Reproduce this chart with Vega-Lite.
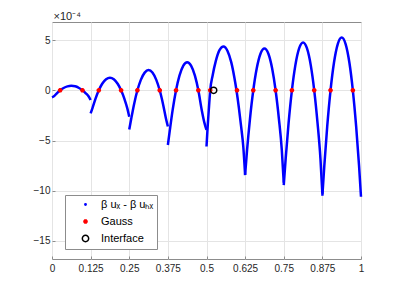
{
  "$schema": "https://vega.github.io/schema/vega-lite/v6.json",
  "width": 309,
  "height": 237,
  "autosize": {"type": "none"},
  "padding": {"left": 52, "top": 22, "right": 38, "bottom": 33},
  "background": "white",
  "config": {
    "font": "Liberation Sans",
    "view": {"stroke": "#8c8c8c", "strokeWidth": 1},
    "axis": {
      "domain": false,
      "tickColor": "#8c8c8c",
      "tickSize": -3,
      "gridColor": "#e4e4e4",
      "gridWidth": 1,
      "labelFont": "Liberation Sans",
      "labelFontSize": 10,
      "labelColor": "#262626",
      "titleFont": "Liberation Sans"
    }
  },
  "datasets": {
    "curve": [
      {"x": 0, "y": -0.7, "element": 1}, {"x": 0.00625, "y": -0.6, "element": 1}, {"x": 0.015625, "y": -0.3, "element": 1}, {"x": 0.0264, "y": 0, "element": 1}, {"x": 0.0375, "y": 0.23, "element": 1}, {"x": 0.05, "y": 0.39, "element": 1}, {"x": 0.0625, "y": 0.44, "element": 1}, {"x": 0.075, "y": 0.4, "element": 1}, {"x": 0.0875, "y": 0.23, "element": 1}, {"x": 0.0986, "y": 0, "element": 1}, {"x": 0.109375, "y": -0.3, "element": 1}, {"x": 0.11875, "y": -0.62, "element": 1}, {"x": 0.125, "y": -0.97, "element": 1},
      {"x": 0.125, "y": -2.3, "element": 2}, {"x": 0.13125, "y": -1.75, "element": 2}, {"x": 0.140625, "y": -0.86, "element": 2}, {"x": 0.1514, "y": 0, "element": 2}, {"x": 0.1625, "y": 0.65, "element": 2}, {"x": 0.175, "y": 1.1, "element": 2}, {"x": 0.1875, "y": 1.26, "element": 2}, {"x": 0.2, "y": 1.11, "element": 2}, {"x": 0.2125, "y": 0.65, "element": 2}, {"x": 0.2236, "y": 0, "element": 2}, {"x": 0.234375, "y": -0.86, "element": 2}, {"x": 0.24375, "y": -1.8, "element": 2}, {"x": 0.25, "y": -2.63, "element": 2},
      {"x": 0.25, "y": -3.9, "element": 3}, {"x": 0.25625, "y": -2.86, "element": 3}, {"x": 0.265625, "y": -1.38, "element": 3}, {"x": 0.2764, "y": 0, "element": 3}, {"x": 0.2875, "y": 1.04, "element": 3}, {"x": 0.3, "y": 1.76, "element": 3}, {"x": 0.3125, "y": 2.02, "element": 3}, {"x": 0.325, "y": 1.77, "element": 3}, {"x": 0.3375, "y": 1.04, "element": 3}, {"x": 0.3486, "y": 0, "element": 3}, {"x": 0.359375, "y": -1.38, "element": 3}, {"x": 0.36875, "y": -2.8, "element": 3}, {"x": 0.375, "y": -3.6, "element": 3},
      {"x": 0.375, "y": -5.45, "element": 4}, {"x": 0.38125, "y": -4.0, "element": 4}, {"x": 0.390625, "y": -1.93, "element": 4}, {"x": 0.4014, "y": 0, "element": 4}, {"x": 0.4125, "y": 1.46, "element": 4}, {"x": 0.425, "y": 2.46, "element": 4}, {"x": 0.4375, "y": 2.8, "element": 4}, {"x": 0.45, "y": 2.46, "element": 4}, {"x": 0.4625, "y": 1.46, "element": 4}, {"x": 0.4736, "y": 0, "element": 4}, {"x": 0.484375, "y": -1.93, "element": 4}, {"x": 0.49375, "y": -3.3, "element": 4}, {"x": 0.5, "y": -3.95, "element": 4},
      {"x": 0.5, "y": -5.6, "element": 5}, {"x": 0.504, "y": -3.5, "element": 5}, {"x": 0.508, "y": -1.7, "element": 5}, {"x": 0.512, "y": 0, "element": 5}, {"x": 0.52, "y": 1.5, "element": 5}, {"x": 0.53, "y": 2.9, "element": 5}, {"x": 0.542, "y": 4.0, "element": 5}, {"x": 0.555, "y": 4.36, "element": 5}, {"x": 0.568, "y": 3.92, "element": 5}, {"x": 0.58, "y": 2.8, "element": 5}, {"x": 0.59, "y": 1.3, "element": 5}, {"x": 0.597, "y": 0, "element": 5}, {"x": 0.605, "y": -1.8, "element": 5}, {"x": 0.612, "y": -3.6, "element": 5}, {"x": 0.619, "y": -5.6, "element": 5}, {"x": 0.625, "y": -8.45, "element": 5},
      {"x": 0.625, "y": -8.4, "element": 6}, {"x": 0.63125, "y": -5.95, "element": 6}, {"x": 0.640625, "y": -2.86, "element": 6}, {"x": 0.6514, "y": 0, "element": 6}, {"x": 0.6625, "y": 2.16, "element": 6}, {"x": 0.675, "y": 3.66, "element": 6}, {"x": 0.6875, "y": 4.16, "element": 6}, {"x": 0.7, "y": 3.66, "element": 6}, {"x": 0.7125, "y": 2.16, "element": 6}, {"x": 0.7236, "y": 0, "element": 6}, {"x": 0.734375, "y": -2.86, "element": 6}, {"x": 0.74375, "y": -5.95, "element": 6}, {"x": 0.75, "y": -9.2, "element": 6},
      {"x": 0.75, "y": -9.45, "element": 7}, {"x": 0.75625, "y": -6.8, "element": 7}, {"x": 0.765625, "y": -3.27, "element": 7}, {"x": 0.7764, "y": 0, "element": 7}, {"x": 0.7875, "y": 2.48, "element": 7}, {"x": 0.8, "y": 4.19, "element": 7}, {"x": 0.8125, "y": 4.76, "element": 7}, {"x": 0.825, "y": 4.19, "element": 7}, {"x": 0.8375, "y": 2.48, "element": 7}, {"x": 0.8486, "y": 0, "element": 7}, {"x": 0.859375, "y": -3.27, "element": 7}, {"x": 0.86875, "y": -6.8, "element": 7}, {"x": 0.875, "y": -10.3, "element": 7},
      {"x": 0.875, "y": -10.5, "element": 8}, {"x": 0.88125, "y": -7.52, "element": 8}, {"x": 0.890625, "y": -3.62, "element": 8}, {"x": 0.9014, "y": 0, "element": 8}, {"x": 0.9125, "y": 2.74, "element": 8}, {"x": 0.925, "y": 4.63, "element": 8}, {"x": 0.9375, "y": 5.26, "element": 8}, {"x": 0.95, "y": 4.63, "element": 8}, {"x": 0.9625, "y": 2.74, "element": 8}, {"x": 0.9736, "y": 0, "element": 8}, {"x": 0.984375, "y": -3.62, "element": 8}, {"x": 0.99375, "y": -7.52, "element": 8}, {"x": 1.0, "y": -10.6, "element": 8}
    ],
    "markers": [
      {"x": 0.0264, "y": 0, "series": "Gauss"}, {"x": 0.0986, "y": 0, "series": "Gauss"},
      {"x": 0.1514, "y": 0, "series": "Gauss"}, {"x": 0.2236, "y": 0, "series": "Gauss"},
      {"x": 0.2764, "y": 0, "series": "Gauss"}, {"x": 0.3486, "y": 0, "series": "Gauss"},
      {"x": 0.4014, "y": 0, "series": "Gauss"}, {"x": 0.4736, "y": 0, "series": "Gauss"},
      {"x": 0.512, "y": 0, "series": "Gauss"}, {"x": 0.5986, "y": 0, "series": "Gauss"},
      {"x": 0.6514, "y": 0, "series": "Gauss"}, {"x": 0.7236, "y": 0, "series": "Gauss"},
      {"x": 0.7764, "y": 0, "series": "Gauss"}, {"x": 0.8486, "y": 0, "series": "Gauss"},
      {"x": 0.9014, "y": 0, "series": "Gauss"}, {"x": 0.9736, "y": 0, "series": "Gauss"},
      {"x": 0.523, "y": 0, "series": "Interface"}
    ]
  },
  "encoding": {
    "x": {
      "field": "x", "type": "quantitative",
      "scale": {"domain": [0, 1], "nice": false, "zero": false},
      "axis": {"title": null, "values": [0, 0.125, 0.25, 0.375, 0.5, 0.625, 0.75, 0.875, 1], "labelExpr": "format(datum.value, '~g')", "labelPadding": 7, "grid": true, "labelFlush": false}
    },
    "y": {
      "field": "y", "type": "quantitative",
      "scale": {"domain": [-16.8, 6.8], "nice": false, "zero": false},
      "axis": {"title": "×10⁻⁴", "titleAngle": 0, "titleAlign": "left", "titleBaseline": "alphabetic", "titleX": 1, "titleY": -3, "titleFontSize": 11, "titleFontWeight": "normal", "titleColor": "#262626", "values": [-15, -10, -5, 0, 5], "format": "d", "labelPadding": 5, "grid": true}
    }
  },
  "layer": [
    {
      "data": {"name": "curve"},
      "mark": {"type": "line", "color": "#0000ff", "strokeWidth": 2.5, "interpolate": "monotone"},
      "encoding": {
        "detail": {"field": "element", "type": "nominal"}
      }
    },
    {
      "data": {"name": "markers"},
      "mark": {"type": "point", "filled": false, "strokeWidth": 1.5, "opacity": 1},
      "encoding": {
        "color": {
          "field": "series", "type": "nominal",
          "scale": {"domain": ["β uₓ - β uₕₓ", "Gauss", "Interface"], "range": ["#0000ff", "#ff0000", "#000000"]},
          "legend": {"title": null, "orient": "none", "legendX": 13, "legendY": 173, "strokeColor": "#8c8c8c", "fillColor": "white", "padding": 4, "labelFontSize": 11, "labelColor": "#000000", "labelFont": "Liberation Sans", "rowPadding": 5, "symbolStrokeWidth": 1.5, "symbolOffset": 11, "labelOffset": 10, "cornerRadius": 0}
        },
        "shape": {
          "field": "series", "type": "nominal",
          "scale": {"domain": ["β uₓ - β uₕₓ", "Gauss", "Interface"], "range": ["circle", "M-1,0L1,0M0,-1L0,1M-0.7,-0.7L0.7,0.7M-0.7,0.7L0.7,-0.7", "circle"]}
        },
        "size": {
          "field": "series", "type": "nominal",
          "scale": {"domain": ["β uₓ - β uₕₓ", "Gauss", "Interface"], "range": [2, 40, 22]}
        }
      }
    }
  ]
}
